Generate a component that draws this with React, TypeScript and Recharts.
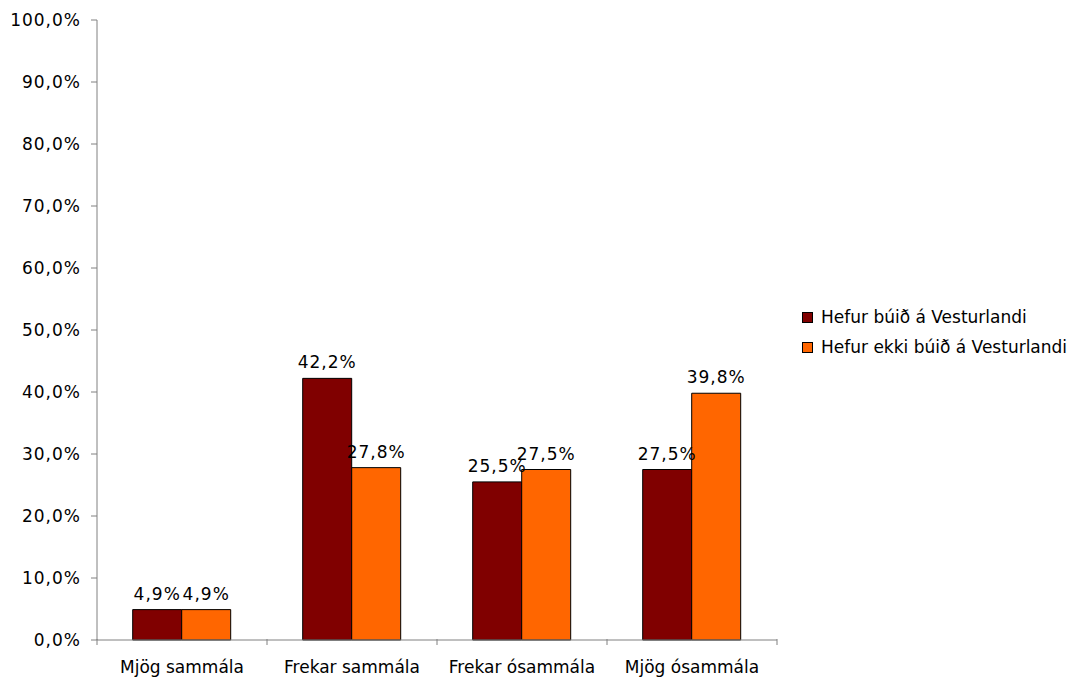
import { BarChart, Bar, XAxis, YAxis, Legend, LabelList } from 'recharts';

const categories = ['Mjög sammála', 'Frekar sammála', 'Frekar ósammála', 'Mjög ósammála'];
const hefurBuid = [4.9, 42.2, 25.5, 27.5];
const hefurEkkiBuid = [4.9, 27.8, 27.5, 39.8];
const yTicks = [0, 10, 20, 30, 40, 50, 60, 70, 80, 90, 100];

const data = categories.map((name, i) => ({
    name,
    a: hefurBuid[i],
    b: hefurEkkiBuid[i],
}));

const font = 'Verdana, "DejaVu Sans", sans-serif';
const fs = 17;
const axisColor = '#808080';
const pct = (v: number) => v.toFixed(1).replace('.', ',') + '%';

// category label with tick marks at the band edges instead of the centre
const CategoryTick = (props: any) => {
    const { x, y, payload, index, visibleTicksCount } = props;
    const half = payload.offset || 0;
    const top = y - 17;
    return (
        <g>
            <line x1={x - half} x2={x - half} y1={top} y2={top + 6} stroke={axisColor} />
            {index === visibleTicksCount - 1 && (
                <line x1={x + half} x2={x + half} y1={top} y2={top + 6} stroke={axisColor} />
            )}
            <text x={x} y={y + 17} textAnchor="middle" fill="#000" fontSize={fs} fontFamily={font}>
                {payload.value}
            </text>
        </g>
    );
};

const LegendContent = (props: any) => (
    <div style={{ fontFamily: font, fontSize: fs, color: '#000' }}>
        {(props.payload || []).map((p: any) => (
            <div key={p.value} style={{ display: 'flex', alignItems: 'center', height: 30 }}>
                <span
                    style={{
                        width: 9,
                        height: 9,
                        background: p.color,
                        border: '1px solid #000',
                        marginRight: 8,
                        display: 'inline-block',
                    }}
                />
                {p.value}
            </div>
        ))}
    </div>
);

export default function App() {
    return (
        <div style={{ position: 'absolute', left: 0, top: 0, background: '#fff' }}>
            <BarChart
                width={1082}
                height={681}
                data={data}
                margin={{ top: 20, right: 305, bottom: 0, left: 0 }}
                barCategoryGap="21%"
                barGap={0}
            >
                <XAxis
                    dataKey="name"
                    height={41}
                    tickLine={false}
                    axisLine={{ stroke: axisColor }}
                    tick={CategoryTick}
                    tickMargin={10}
                    interval={0}
                />
                <YAxis
                    width={97}
                    domain={[0, 100]}
                    ticks={yTicks}
                    tickFormatter={pct}
                    axisLine={{ stroke: axisColor }}
                    tickLine={{ stroke: axisColor }}
                    tickSize={6}
                    tickMargin={10}
                    tick={{ fill: '#000', fontSize: fs, fontFamily: font, letterSpacing: 1 }}
                />
                <Legend
                    layout="horizontal"
                    verticalAlign="middle"
                    content={LegendContent}
                    wrapperStyle={{ left: 802, top: 302, width: 280 }}
                />
                <Bar dataKey="a" name="Hefur búið á Vesturlandi" fill="#800000" stroke="#000" strokeWidth={1} isAnimationActive={false}>
                    <LabelList dataKey="a" position="top" offset={10} formatter={pct} fill="#000" fontSize={fs} fontFamily={font} letterSpacing={1} />
                </Bar>
                <Bar dataKey="b" name="Hefur ekki búið á Vesturlandi" fill="#FF6600" stroke="#000" strokeWidth={1} isAnimationActive={false}>
                    <LabelList dataKey="b" position="top" offset={10} formatter={pct} fill="#000" fontSize={fs} fontFamily={font} letterSpacing={1} />
                </Bar>
            </BarChart>
        </div>
    );
}
